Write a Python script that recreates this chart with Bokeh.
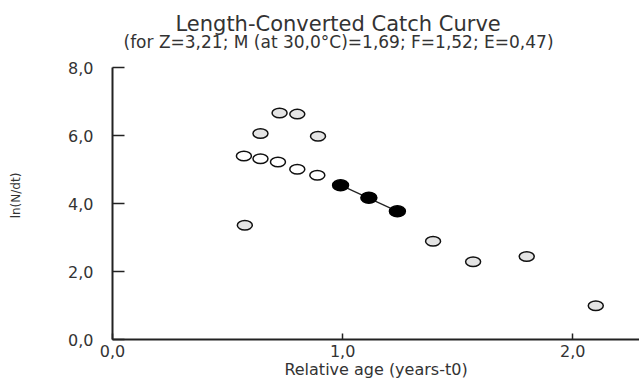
from bokeh.plotting import figure
from bokeh.models import Range1d, FixedTicker, Title
from bokeh.embed import file_html
from bokeh.resources import INLINE

# ---- data ----
age_open_white = [0.571, 0.643, 0.719, 0.803, 0.890]
lnN_open_white = [5.40, 5.32, 5.22, 5.01, 4.83]
age_open_grey = [0.726, 0.803, 0.643, 0.893, 0.575, 1.393, 1.567, 1.800, 2.100]
lnN_open_grey = [6.66, 6.63, 6.06, 5.98, 3.36, 2.89, 2.29, 2.44, 0.99]
age_used = [0.991, 1.114, 1.238]
lnN_used = [4.54, 4.17, 3.77]
fit_age = [0.991, 1.238]
fit_lnN = [4.54, 3.77]

x_ticks = [0.0, 1.0, 2.0]
x_tick_labels = ["0,0", "1,0", "2,0"]
y_ticks = [0.0, 2.0, 4.0, 6.0, 8.0]
y_tick_labels = ["0,0", "2,0", "4,0", "6,0", "8,0"]

title_text = "Length-Converted Catch Curve"
subtitle_text = "(for Z=3,21; M (at 30,0\u00b0C)=1,69; F=1,52; E=0,47)"
x_label = "Relative age (years-t0)"
y_label = "ln(N/dt)"

FONT = "DejaVu Sans"
TXT = "#333333"
AX = "#222222"

p = figure(width=639, height=383, output_backend="svg", toolbar_location=None,
           x_range=Range1d(0, 2.29), y_range=Range1d(0, 8.472),
           min_border_left=112, min_border_right=0, min_border_top=51, min_border_bottom=44)
p.outline_line_color = None
p.xgrid.visible = False
p.ygrid.visible = False
p.background_fill_color = "white"
p.border_fill_color = "white"
p.title.visible = False

for ax, ticks, labels, tin, standoff in ((p.xaxis[0], x_ticks, x_tick_labels, 6, 5),
                                         (p.yaxis[0], y_ticks, y_tick_labels, 12, 19)):
    ax.ticker = FixedTicker(ticks=ticks)
    ax.major_label_overrides = {t: l for t, l in zip(ticks, labels)}
    ax.minor_tick_line_color = None
    ax.major_tick_in = tin
    ax.major_tick_out = 0
    ax.major_tick_line_color = AX
    ax.major_tick_line_width = 1.5
    ax.axis_line_color = AX
    ax.axis_line_width = 2
    ax.major_label_text_font = FONT
    ax.major_label_text_font_size = "16px"
    ax.major_label_text_color = TXT
    ax.major_label_standoff = standoff

p.yaxis[0].bounds = (0, 8)

xa = p.xaxis[0]
xa.axis_label = x_label
xa.axis_label_text_font = FONT
xa.axis_label_text_font_size = "16px"
xa.axis_label_text_font_style = "normal"
xa.axis_label_text_color = TXT
xa.axis_label_standoff = 0

ya = p.yaxis[0]
ya.axis_label = y_label
ya.axis_label_text_font = FONT
ya.axis_label_text_font_size = "12px"
ya.axis_label_text_font_style = "normal"
ya.axis_label_text_color = TXT
ya.axis_label_standoff = 42

# regression line
p.line(fit_age, fit_lnN, line_color=AX, line_width=1.2)

# points
p.ellipse(age_open_grey, lnN_open_grey, width=15, height=9.5,
          width_units="screen", height_units="screen",
          fill_color="#e4e4e4", line_color="#111111", line_width=1.5)
p.ellipse(age_open_white, lnN_open_white, width=15, height=9.5,
          width_units="screen", height_units="screen",
          fill_color="white", line_color="#111111", line_width=1.5)
p.ellipse(age_used, lnN_used, width=16, height=11,
          width_units="screen", height_units="screen",
          fill_color="black", line_color="black", line_width=1.5)

# titles (subtitle first: nearer the frame)
p.add_layout(Title(text=subtitle_text, align="left", offset=11, standoff=0,
                   text_font=FONT, text_font_size="17px", text_font_style="normal",
                   text_color=TXT), "above")
p.add_layout(Title(text=title_text, align="left", offset=63, standoff=-13.6,
                   text_font=FONT, text_font_size="21px", text_font_style="normal",
                   text_color=TXT), "above")

open("out.html", "w").write(file_html(p, INLINE))
